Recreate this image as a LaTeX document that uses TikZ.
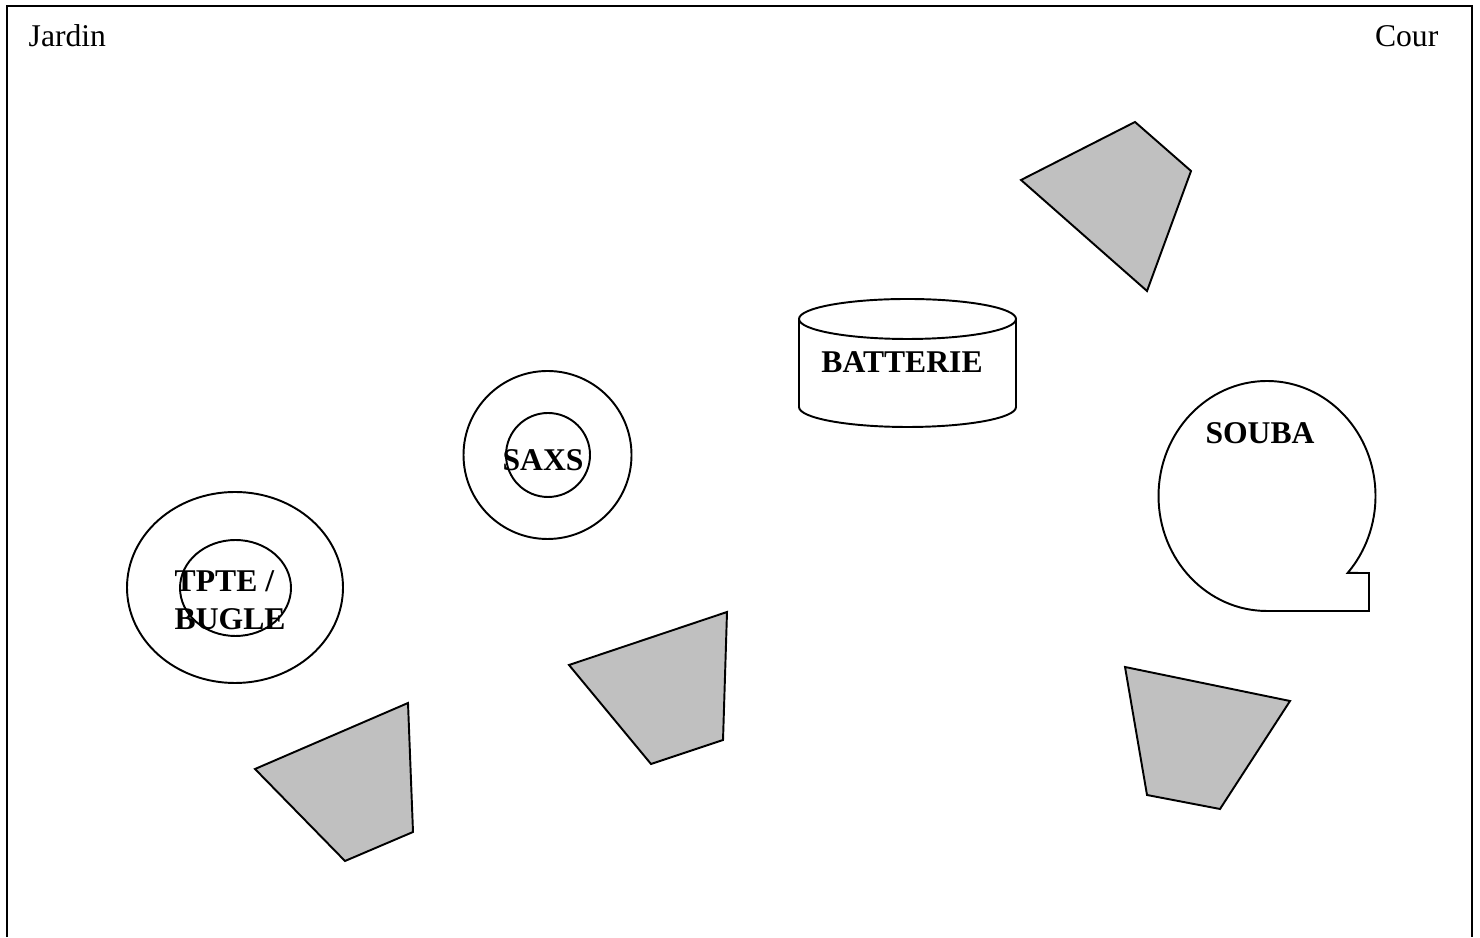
\documentclass[tikz,border=0pt]{standalone}
\usepackage{fontspec}
\setmainfont{Liberation Serif}
\definecolor{pupitregris}{RGB}{192,192,192}

\begin{document}
\begin{tikzpicture}[x=0.01cm, y=0.01cm,
    trait/.style={draw, line width=0.55pt},
    pupitre/.style={trait, fill=pupitregris},
    nom/.style={font=\bfseries\fontsize{9}{11}\selectfont, inner sep=0pt},
    cote/.style={font=\fontsize{9}{10.5}\selectfont, inner sep=0pt}]
      \def\rx{108.5}

      \useasboundingbox (0,0) rectangle (1480,937);
      \draw[line width=0.7pt] (7,0) -- (7,931) -- (1472,931) -- (1472,0);
      \node[cote, anchor=base west] (jardin) at (28,890) {Jardin};
      \node[cote, anchor=base east] (cour) at (1439,890) {Cour};

      % pupitres
      \draw[pupitre] (1021,757) -- (1135,815) -- (1191,766) -- (1147,646) -- cycle;
      \draw[pupitre] (255,168) -- (408,234) -- (413,105) -- (345,76) -- cycle;
      \draw[pupitre] (569,272) -- (727,325) -- (723,197) -- (651,173) -- cycle;
      \draw[pupitre] (1125,270) -- (1290,236) -- (1220,128) -- (1147,142) -- cycle;

      % batterie
      \draw[trait] (799,618) -- (799,530) arc[start angle=180, end angle=360, x radius=\rx, y radius=20] -- (1016,618);
      \draw[trait] (907.5,618) ellipse [x radius=\rx, y radius=20];
      \node[nom, anchor=base] (batterie) at (902,564) {BATTERIE};

      % souba
      \draw[trait] (1267,326) arc[start angle=270, end angle=-42, x radius=\rx, y radius=115] -- (1369,364) -- (1369,326) -- cycle;
      \node[nom, anchor=base] (souba) at (1260,493) {SOUBA};

      % saxs
      \draw[trait] (547.5,482) circle[radius=84];
      \draw[trait] (548,482) circle[radius=42];
      \node[nom, anchor=base] (saxs) at (543,466) {SAXS};

      % tpte / bugle
      \draw[trait] (235,349.5) ellipse [x radius=108, y radius=95.5];
      \draw[trait] (235.5,349) ellipse [x radius=55.5, y radius=48];
      \node[nom, anchor=base west, align=left] (tpte) at (174,307) {TPTE /\\BUGLE};

    \end{tikzpicture}
\end{document}
